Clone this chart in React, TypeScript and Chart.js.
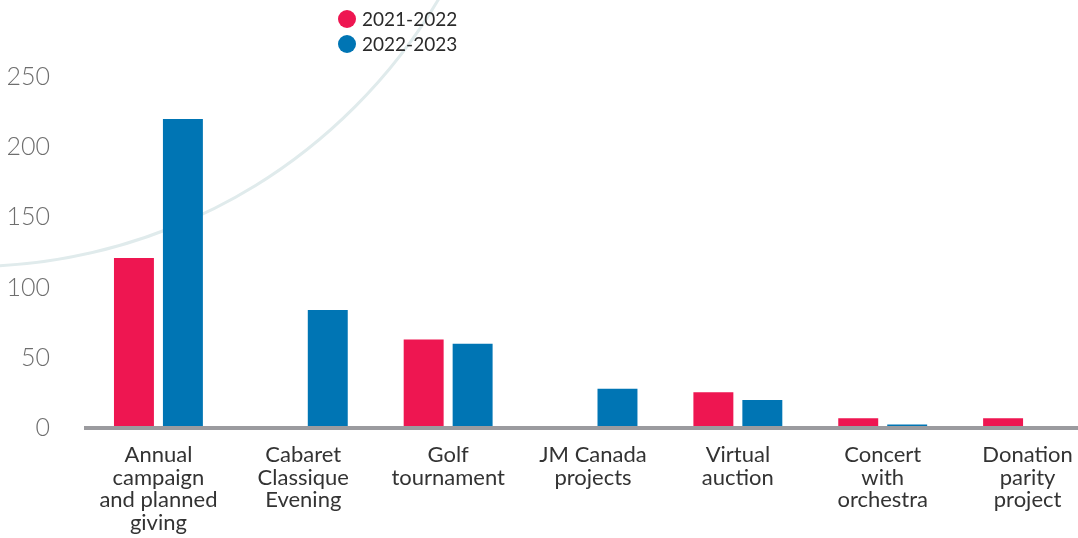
import React, { useEffect, useRef } from "react";
import { Chart, registerables } from "chart.js";

Chart.register(...registerables);

const categories: string[][] = [
  ["Annual", "campaign", "and planned", "giving"],
  ["Cabaret", "Classique", "Evening"],
  ["Golf", "tournament"],
  ["JM Canada", "projects"],
  ["Virtual", "auction"],
  ["Concert", "with", "orchestra"],
  ["Donation", "parity", "project"],
];
const seriesLabels = ["2021-2022", "2022-2023"];
const values2021 = [121, null, 63, null, 25.5, 7, 7];
const values2022 = [220, 84, 60, 28, 20, 2.5, null];
const seriesColors = ["#EE1651", "#0075B4"];
const yMin = 0;
const yMax = 250;
const yStep = 50;

const FONT = "Lato, 'Open Sans', 'DejaVu Sans', sans-serif";

export default function App() {
  const canvasRef = useRef<HTMLCanvasElement | null>(null);

  useEffect(() => {
    document.body.style.margin = "0";
    const canvas = canvasRef.current;
    if (!canvas) return;
    const chart = new Chart(canvas, {
      type: "bar",
      data: {
        labels: categories,
        datasets: [
          {
            label: seriesLabels[0],
            data: values2021,
            backgroundColor: seriesColors[0],
            borderWidth: 0,
            categoryPercentage: 0.676,
            barPercentage: 0.816,
          },
          {
            label: seriesLabels[1],
            data: values2022,
            backgroundColor: seriesColors[1],
            borderWidth: 0,
            categoryPercentage: 0.676,
            barPercentage: 0.816,
          },
        ],
      },
      options: {
        responsive: false,
        animation: false,
        devicePixelRatio: 1,
        layout: { padding: { top: 77, left: 8, right: 0, bottom: 0 } },
        plugins: {
          legend: { display: false },
          tooltip: { enabled: false },
        },
        scales: {
          x: {
            grid: { display: false, drawTicks: false },
            border: { display: true, color: "#9b9b9f", width: 4, z: 1 },
            ticks: {
              color: "#333333",
              font: { family: FONT, size: 22, lineHeight: "22.5px" },
              padding: 16,
              maxRotation: 0,
              autoSkip: false,
            },
            afterFit: (s: any) => {
              s.height = 110;
            },
          },
          y: {
            min: yMin,
            max: yMax,
            grid: { display: false, drawTicks: false },
            border: { display: false },
            ticks: {
              stepSize: yStep,
              color: "#6e6e6e",
              font: { family: FONT, size: 25, weight: "300" },
              padding: 36,
            },
            afterFit: (s: any) => {
              s.width = 78;
            },
          },
        },
      },
    });
    return () => chart.destroy();
  }, []);

  return (
    <div
      style={{
        position: "relative",
        width: 1078,
        height: 538,
        overflow: "hidden",
        background: "#ffffff",
      }}
    >
      <div
        style={{
          position: "absolute",
          left: -31 - 546.5,
          top: -279 - 546.5,
          width: 1093,
          height: 1093,
          borderRadius: "50%",
          border: "3px solid #e0ebec",
          boxSizing: "border-box",
        }}
      />
      <canvas
        ref={canvasRef}
        width={1100}
        height={538}
        style={{ position: "absolute", left: 0, top: 0 }}
      />
      <div
        style={{
          position: "absolute",
          left: 338,
          top: 6,
          fontFamily: FONT,
          fontSize: 19,
          color: "#2a2a2a",
          lineHeight: "25px",
        }}
      >
        {seriesLabels.map((lab, i) => (
          <div key={lab} style={{ display: "flex", alignItems: "center", height: 25 }}>
            <span
              style={{
                display: "inline-block",
                width: 18,
                height: 18,
                borderRadius: "50%",
                background: seriesColors[i],
                marginRight: 6,
              }}
            />
            <span>{lab}</span>
          </div>
        ))}
      </div>
    </div>
  );
}
